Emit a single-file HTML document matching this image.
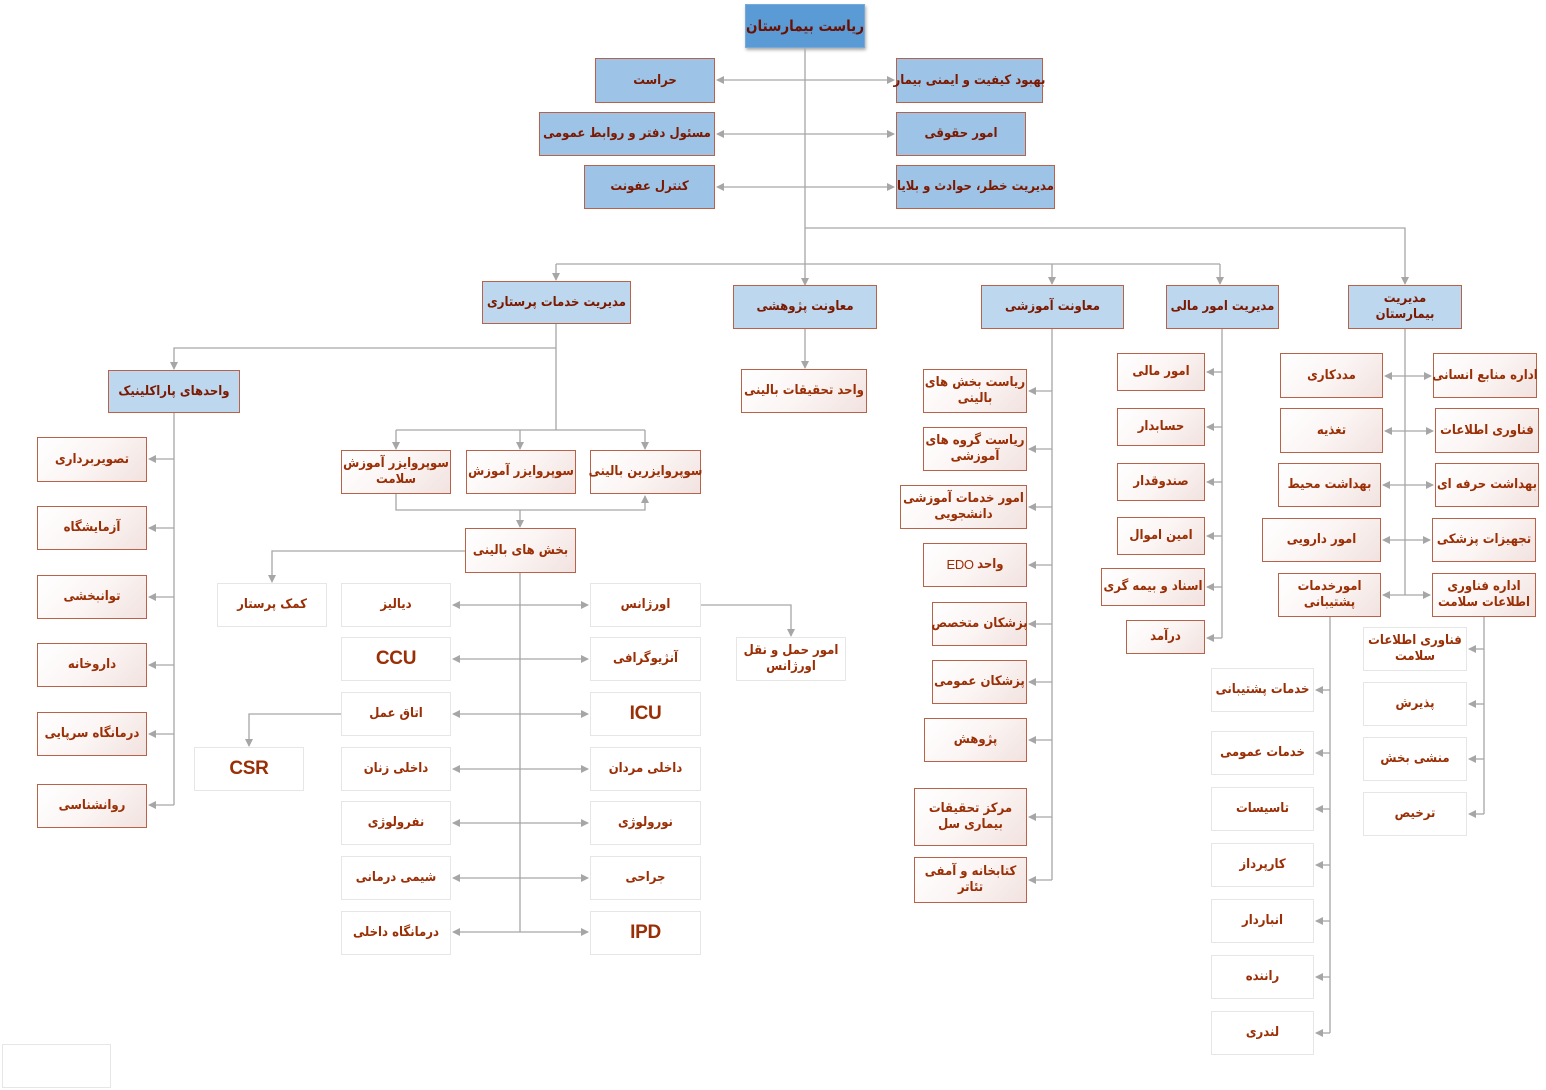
<!DOCTYPE html>
<html><head><meta charset="utf-8"><style>
body{margin:0;width:1546px;height:1090px;background:#fff;position:relative;overflow:hidden;font-family:"DejaVu Sans Condensed","DejaVu Sans","Liberation Sans",sans-serif}
.b{position:absolute;box-sizing:border-box;display:flex;align-items:center;justify-content:center;text-align:center;direction:rtl;font-weight:bold;font-size:13px;line-height:1.2;color:#9a2e05;border:1px solid #b8624a;background:linear-gradient(135deg,#fff 0%,#fbf5f4 50%,#f1e2df 100%);padding:0 1px;white-space:nowrap;letter-spacing:-0.3px}
.g{border:1px solid #e6e6e6;background:#fff}
.bl{background:#9dc3e6;color:#7a1800;border-color:#b8624a}
.bl2{background:#bdd7ee;color:#7a1800;border-color:#b8624a}
.top{background:#5b9bd5;color:#6a1000;border:1px solid #7aa9d8;font-size:15px;box-shadow:1px 2px 3px #aaa}
.lat{font-family:"Liberation Sans",sans-serif;font-size:19px}
svg{position:absolute;left:0;top:0}
</style></head><body>
<svg width="1546" height="1090">
<defs><marker id="a" markerWidth="8" markerHeight="8" refX="7" refY="4" orient="auto" markerUnits="userSpaceOnUse"><path d="M0,0 L8,4 L0,8 z" fill="#a6a6a6"/></marker>
<marker id="s" markerWidth="8" markerHeight="8" refX="1" refY="4" orient="auto" markerUnits="userSpaceOnUse"><path d="M8,0 L0,4 L8,8 z" fill="#a6a6a6"/></marker></defs>
<g stroke="#a6a6a6" stroke-width="1.3" fill="none" marker-end="url(#a)">
<path d="M805 48V285"/>
<path d="M805 228H1405V284"/>
<path d="M556 264V280"/><path d="M1052 264V284"/><path d="M1220 264V284"/>
<path d="M556 348H174V369"/>
<path d="M396 430V449"/><path d="M520 430V449"/><path d="M645 430V449"/>
<path d="M396 494V510H645V496"/>
<path d="M520 510V527"/>
<path d="M520 551H272V582"/>
<path d="M701 605H791V636"/>
<path d="M341 714H249V746"/>
<path d="M174 459H149"/><path d="M174 528H149"/><path d="M174 597H149"/><path d="M174 665H149"/><path d="M174 734H149"/><path d="M174 805H149"/>
<path d="M805 329V368"/>
<path d="M1052 391H1029"/><path d="M1052 449H1029"/><path d="M1052 507H1029"/><path d="M1052 565H1029"/><path d="M1052 624H1029"/><path d="M1052 682H1029"/><path d="M1052 740H1029"/><path d="M1052 817H1029"/><path d="M1052 880H1029"/>
<path d="M1222 372H1207"/><path d="M1222 427H1207"/><path d="M1222 482H1207"/><path d="M1222 536H1207"/><path d="M1222 587H1207"/><path d="M1222 638H1207"/>
<path d="M1330 690H1316"/><path d="M1330 753H1316"/><path d="M1330 809H1316"/><path d="M1330 865H1316"/><path d="M1330 921H1316"/><path d="M1330 977H1316"/><path d="M1330 1033H1316"/>
<path d="M1484 649H1469"/><path d="M1484 704H1469"/><path d="M1484 759H1469"/><path d="M1484 814H1469"/>
</g>
<g stroke="#a6a6a6" stroke-width="1.3" fill="none" marker-start="url(#s)" marker-end="url(#a)">
<path d="M717 80H894"/><path d="M717 134H894"/><path d="M717 187H894"/>
<path d="M453 605H588"/><path d="M453 659H588"/><path d="M453 714H588"/><path d="M453 769H588"/><path d="M453 823H588"/><path d="M453 878H588"/><path d="M453 932H588"/>
<path d="M1385 376H1431"/><path d="M1385 431H1433"/><path d="M1383 485H1433"/><path d="M1383 540H1430"/><path d="M1383 595H1430"/>
</g>
<g stroke="#a6a6a6" stroke-width="1.3" fill="none">
<path d="M556 264H1220"/>
<path d="M556 324V430"/>
<path d="M396 430H645"/>
<path d="M520 573V932"/>
<path d="M174 413V805"/>
<path d="M1052 329V880"/>
<path d="M1222 329V638"/>
<path d="M1405 329V595"/>
<path d="M1330 617V1033"/>
<path d="M1484 617V814"/>
</g></svg>

<div class="b top" style="left:745px;top:4px;width:120px;height:44px">ریاست بیمارستان</div>
<div class="b bl" style="left:595px;top:58px;width:120px;height:45px">حراست</div>
<div class="b bl" style="left:539px;top:112px;width:176px;height:44px">مسئول دفتر و روابط عمومی</div>
<div class="b bl" style="left:584px;top:165px;width:131px;height:44px">کنترل عفونت</div>
<div class="b bl" style="left:896px;top:58px;width:147px;height:45px">بهبود کیفیت و ایمنی بیمار</div>
<div class="b bl" style="left:896px;top:112px;width:130px;height:44px">امور حقوقی</div>
<div class="b bl" style="left:896px;top:165px;width:159px;height:44px">مدیریت خطر، حوادث و بلایا</div>

<div class="b bl2" style="left:482px;top:281px;width:149px;height:43px">مدیریت خدمات پرستاری</div>
<div class="b bl2" style="left:733px;top:285px;width:144px;height:44px">معاونت پژوهشی</div>
<div class="b bl2" style="left:981px;top:285px;width:143px;height:44px">معاونت آموزشی</div>
<div class="b bl2" style="left:1166px;top:285px;width:113px;height:44px">مدیریت امور مالی</div>
<div class="b bl2" style="left:1348px;top:285px;width:114px;height:44px">مدیریت<br>بیمارستان</div>

<div class="b bl2" style="left:108px;top:370px;width:132px;height:43px">واحدهای پاراکلینیک</div>
<div class="b" style="left:37px;top:437px;width:110px;height:45px">تصویربرداری</div>
<div class="b" style="left:37px;top:506px;width:110px;height:44px">آزمایشگاه</div>
<div class="b" style="left:37px;top:575px;width:110px;height:44px">توانبخشی</div>
<div class="b" style="left:37px;top:643px;width:110px;height:44px">داروخانه</div>
<div class="b" style="left:37px;top:712px;width:110px;height:44px">درمانگاه سرپایی</div>
<div class="b" style="left:37px;top:784px;width:110px;height:44px">روانشناسی</div>

<div class="b" style="left:341px;top:450px;width:110px;height:44px">سوپروایزر آموزش<br>سلامت</div>
<div class="b" style="left:466px;top:450px;width:110px;height:44px">سوپروایزر آموزش</div>
<div class="b" style="left:590px;top:450px;width:111px;height:44px">سوپروایزرین بالینی</div>
<div class="b" style="left:465px;top:528px;width:111px;height:45px">بخش های بالینی</div>

<div class="b g" style="left:217px;top:583px;width:110px;height:44px">کمک پرستار</div>
<div class="b g" style="left:341px;top:583px;width:110px;height:44px">دیالیز</div>
<div class="b g lat" style="left:341px;top:637px;width:110px;height:44px">CCU</div>
<div class="b g" style="left:341px;top:692px;width:110px;height:44px">اتاق عمل</div>
<div class="b g" style="left:341px;top:747px;width:110px;height:44px">داخلی زنان</div>
<div class="b g" style="left:341px;top:801px;width:110px;height:44px">نفرولوژی</div>
<div class="b g" style="left:341px;top:856px;width:110px;height:44px">شیمی درمانی</div>
<div class="b g" style="left:341px;top:911px;width:110px;height:44px">درمانگاه داخلی</div>
<div class="b g" style="left:590px;top:583px;width:111px;height:44px">اورژانس</div>
<div class="b g" style="left:590px;top:637px;width:111px;height:44px">آنژیوگرافی</div>
<div class="b g lat" style="left:590px;top:692px;width:111px;height:44px">ICU</div>
<div class="b g" style="left:590px;top:747px;width:111px;height:44px">داخلی مردان</div>
<div class="b g" style="left:590px;top:801px;width:111px;height:44px">نورولوژی</div>
<div class="b g" style="left:590px;top:856px;width:111px;height:44px">جراحی</div>
<div class="b g lat" style="left:590px;top:911px;width:111px;height:44px">IPD</div>
<div class="b g" style="left:736px;top:637px;width:110px;height:44px">امور حمل و نقل<br>اورژانس</div>
<div class="b g lat" style="left:194px;top:747px;width:110px;height:44px">CSR</div>

<div class="b" style="left:741px;top:369px;width:126px;height:44px">واحد تحقیقات بالینی</div>

<div class="b" style="left:923px;top:369px;width:104px;height:44px">ریاست بخش های<br>بالینی</div>
<div class="b" style="left:923px;top:427px;width:104px;height:44px">ریاست گروه های<br>آموزشی</div>
<div class="b" style="left:900px;top:485px;width:127px;height:44px">امور خدمات آموزشی<br>دانشجویی</div>
<div class="b" style="left:923px;top:543px;width:104px;height:44px">واحد <span style="font-weight:normal;font-family:'Liberation Sans'">&nbsp;EDO</span></div>
<div class="b" style="left:932px;top:602px;width:95px;height:44px">پزشکان متخصص</div>
<div class="b" style="left:932px;top:660px;width:95px;height:44px">پزشکان عمومی</div>
<div class="b" style="left:924px;top:718px;width:103px;height:44px">پژوهش</div>
<div class="b" style="left:914px;top:788px;width:113px;height:58px">مرکز تحقیقات<br>بیماری سل</div>
<div class="b" style="left:914px;top:857px;width:113px;height:46px">کتابخانه و آمفی<br>تئاتر</div>

<div class="b" style="left:1117px;top:353px;width:88px;height:38px">امور مالی</div>
<div class="b" style="left:1117px;top:408px;width:88px;height:38px">حسابدار</div>
<div class="b" style="left:1117px;top:463px;width:88px;height:38px">صندوقدار</div>
<div class="b" style="left:1117px;top:517px;width:88px;height:38px">امین اموال</div>
<div class="b" style="left:1101px;top:568px;width:104px;height:38px">اسناد و بیمه گری</div>
<div class="b" style="left:1126px;top:620px;width:79px;height:34px">درآمد</div>

<div class="b" style="left:1280px;top:353px;width:103px;height:45px">مددکاری</div>
<div class="b" style="left:1280px;top:408px;width:103px;height:45px">تغذیه</div>
<div class="b" style="left:1278px;top:463px;width:103px;height:44px">بهداشت محیط</div>
<div class="b" style="left:1262px;top:518px;width:119px;height:44px">امور دارویی</div>
<div class="b" style="left:1278px;top:573px;width:103px;height:44px">امورخدمات<br>پشتیبانی</div>
<div class="b" style="left:1433px;top:353px;width:104px;height:45px">اداره منابع انسانی</div>
<div class="b" style="left:1435px;top:408px;width:104px;height:45px">فناوری اطلاعات</div>
<div class="b" style="left:1435px;top:463px;width:104px;height:44px">بهداشت حرفه ای</div>
<div class="b" style="left:1432px;top:518px;width:104px;height:44px">تجهیزات پزشکی</div>
<div class="b" style="left:1432px;top:573px;width:104px;height:44px">اداره فناوری<br>اطلاعات سلامت</div>

<div class="b g" style="left:1211px;top:668px;width:103px;height:44px">خدمات پشتیبانی</div>
<div class="b g" style="left:1211px;top:731px;width:103px;height:44px">خدمات عمومی</div>
<div class="b g" style="left:1211px;top:787px;width:103px;height:44px">تاسیسات</div>
<div class="b g" style="left:1211px;top:843px;width:103px;height:44px">کارپرداز</div>
<div class="b g" style="left:1211px;top:899px;width:103px;height:44px">انباردار</div>
<div class="b g" style="left:1211px;top:955px;width:103px;height:44px">راننده</div>
<div class="b g" style="left:1211px;top:1011px;width:103px;height:44px">لندری</div>

<div class="b g" style="left:1363px;top:627px;width:104px;height:44px">فناوری اطلاعات<br>سلامت</div>
<div class="b g" style="left:1363px;top:682px;width:104px;height:44px">پذیرش</div>
<div class="b g" style="left:1363px;top:737px;width:104px;height:44px">منشی بخش</div>
<div class="b g" style="left:1363px;top:792px;width:104px;height:44px">ترخیص</div>

<div class="b g" style="left:2px;top:1044px;width:109px;height:44px"></div>
</body></html>
